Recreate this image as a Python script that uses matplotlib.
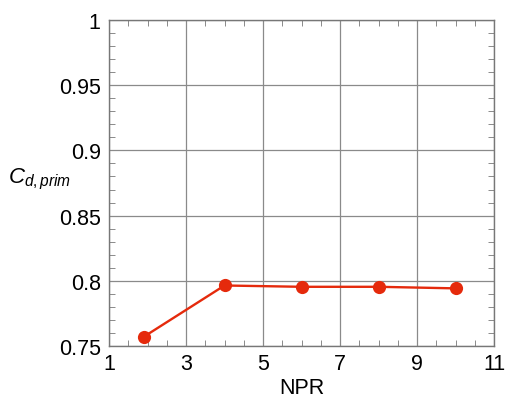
import numpy as np
import matplotlib.pyplot as plt
from matplotlib.ticker import MultipleLocator

plt.rcParams['font.family'] = ['Liberation Sans', 'DejaVu Sans']
plt.rcParams['mathtext.fontset'] = 'custom'
plt.rcParams['mathtext.it'] = 'Liberation Sans:italic'
plt.rcParams['mathtext.rm'] = 'Liberation Sans'

# Primary nozzle discharge coefficient vs nozzle pressure ratio
npr = [1.9, 4.0, 6.0, 8.0, 10.0]
cd_prim = [0.757, 0.7964, 0.7954, 0.7954, 0.7942]

x_ticks = [1, 3, 5, 7, 9, 11]
y_ticks = [0.75, 0.8, 0.85, 0.9, 0.95, 1.0]
y_tick_labels = ['0.75', '0.8', '0.85', '0.9', '0.95', '1']

fig = plt.figure(figsize=(5.09, 4.02), dpi=100)
ax = fig.add_axes([109 / 509, 1 - 347 / 402, 385 / 509, 326 / 402])

ax.plot(npr, cd_prim, color='#e52a0c', linewidth=1.7, marker='o',
        markersize=9.5, markeredgewidth=0, zorder=3)

ax.set_xlim(1, 11)
ax.set_ylim(0.75, 1.0)
ax.set_xticks(x_ticks)
ax.set_yticks(y_ticks)
ax.set_yticklabels(y_tick_labels)
ax.xaxis.set_minor_locator(MultipleLocator(0.5))
ax.yaxis.set_minor_locator(MultipleLocator(0.01))

ax.grid(True, which='major', color='#8a8a8a', linewidth=0.9)
ax.tick_params(which='both', direction='in', top=True, right=True,
               labelsize=15.5, color='#777777')
ax.tick_params(which='major', length=0)
ax.tick_params(axis='y', which='major', pad=6)
ax.tick_params(axis='x', which='major', pad=5)
ax.tick_params(which='minor', length=4, width=0.6)
for s in ax.spines.values():
    s.set_color('#777777')
    s.set_linewidth(1.0)

ax.set_xlabel('NPR', fontsize=15.5, labelpad=2)
ax.set_ylabel(r'$C_{d,prim}$', fontsize=16, rotation=0, ha='center', va='center')
ax.yaxis.set_label_coords(-0.18, 0.515)

fig.savefig('out.png', dpi=100)
